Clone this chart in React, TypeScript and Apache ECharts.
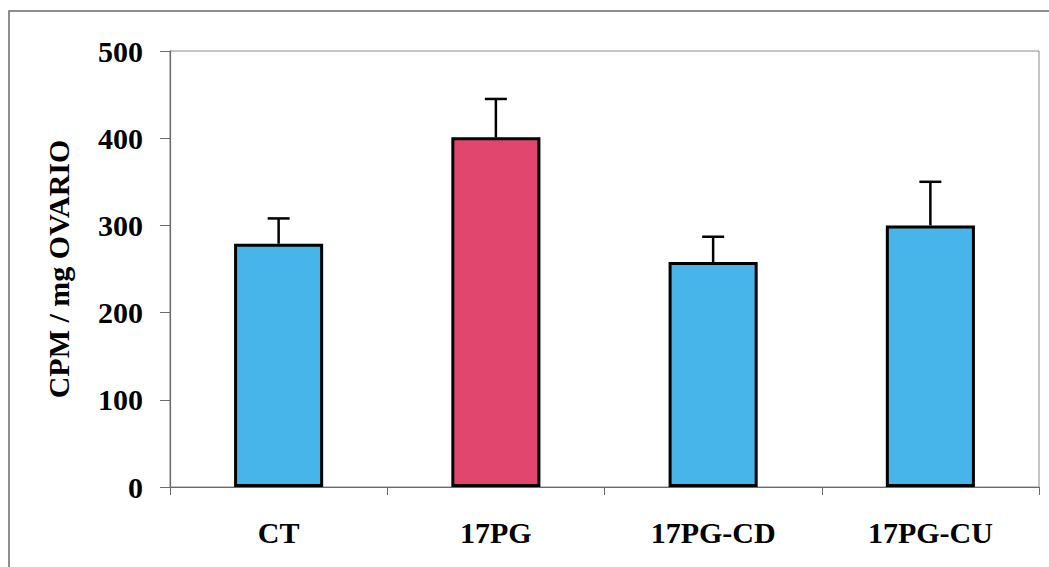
import React, { useEffect, useRef } from "react";
import * as echarts from "echarts";

const categories = ["CT", "17PG", "17PG-CD", "17PG-CU"];
const means = [279, 401, 258, 300];
const errors = [29, 44, 29, 50];
const barColors = ["#47B4EA", "#E0466E", "#47B4EA", "#47B4EA"];
const yTicks = { min: 0, max: 500, interval: 100 };

const FONT = '"Liberation Serif", "Times New Roman", serif';

export default function App() {
  const ref = useRef<HTMLDivElement>(null);
  useEffect(() => {
    if (!ref.current) return;
    const chart = echarts.init(ref.current, null, { renderer: "svg" });
    chart.setOption({
      animation: false,
      backgroundColor: "#ffffff",
      graphic: [
        {
          type: "rect",
          shape: { x: 9, y: 11, width: 1100, height: 600 },
          style: { fill: "none", stroke: "#6a6a6a", lineWidth: 1.5 },
          silent: true,
          z: 0,
        },
      ],
      grid: {
        left: 170,
        right: 10,
        top: 51,
        bottom: 80,
        show: true,
        borderColor: "#8a8a8a",
        borderWidth: 1,
        backgroundColor: "transparent",
      },
      xAxis: {
        type: "category",
        data: categories,
        axisLine: { lineStyle: { color: "#6a6a6a", width: 1.2 } },
        axisTick: { show: true, length: 8, lineStyle: { color: "#6a6a6a" } },
        axisLabel: {
          color: "#000",
          fontFamily: FONT,
          fontWeight: "bold",
          fontSize: 30,
          margin: 30,
        },
        splitLine: { show: false },
      },
      yAxis: {
        type: "value",
        min: yTicks.min,
        max: yTicks.max,
        interval: yTicks.interval,
        name: "CPM / mg OVARIO",
        nameLocation: "middle",
        nameGap: 97,
        nameRotate: 90,
        nameTextStyle: {
          color: "#000",
          fontFamily: FONT,
          fontWeight: "bold",
          fontSize: 30,
        },
        axisLine: { show: true, lineStyle: { color: "#6a6a6a", width: 1.2 } },
        axisTick: { show: true, length: 10, lineStyle: { color: "#6a6a6a" } },
        axisLabel: {
          color: "#000",
          fontFamily: FONT,
          fontWeight: "bold",
          fontSize: 30,
          margin: 27,
        },
        splitLine: { show: false },
      },
      series: [
        {
          type: "bar",
          barWidth: "41%",
          data: means.map((v, i) => ({
            value: v,
            itemStyle: {
              color: barColors[i],
              borderColor: "#000",
              borderWidth: 3,
            },
          })),
          z: 2,
        },
        {
          type: "custom",
          z: 3,
          data: means.map((v, i) => [i, v, v + errors[i]]),
          renderItem: (params: any, api: any) => {
            const base = api.coord([api.value(0), api.value(1)]);
            const top = api.coord([api.value(0), api.value(2)]);
            const half = 11;
            return {
              type: "group",
              children: [
                {
                  type: "line",
                  shape: { x1: base[0], y1: base[1], x2: top[0], y2: top[1] },
                  style: { stroke: "#000", lineWidth: 2.5 },
                },
                {
                  type: "line",
                  shape: { x1: top[0] - half, y1: top[1], x2: top[0] + half, y2: top[1] },
                  style: { stroke: "#000", lineWidth: 2.5 },
                },
              ],
            };
          },
        },
      ],
    });
    return () => chart.dispose();
  }, []);
  return (
    <div
      ref={ref}
      style={{ position: "fixed", left: 0, top: 0, width: 1049, height: 567, background: "#fff" }}
    />
  );
}
